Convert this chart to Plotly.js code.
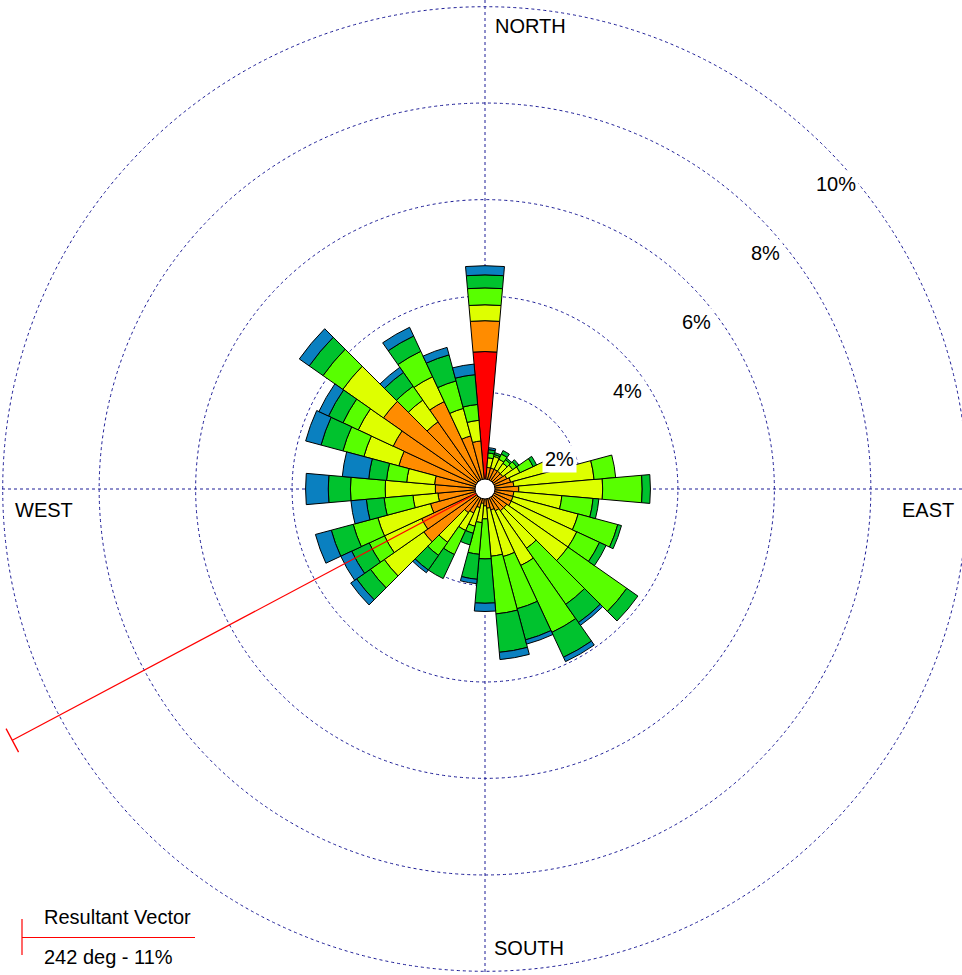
<!DOCTYPE html>
<html>
<head>
<meta charset="utf-8">
<script src="https://cdn.plot.ly/plotly-3.0.1.min.js"></script>
<style>
html,body{margin:0;padding:0;overflow:hidden;background:#fff;width:962px;height:975px;}
#chart{position:absolute;left:-60px;top:-56px;width:1090px;height:1090px;}
</style>
</head>
<body>
<div id="chart"></div>
<script>
// Wind directions (degrees, compass)
const directions = [0,10,20,30,40,50,60,70,80,90,100,110,120,130,140,150,160,170,
                    180,190,200,210,220,230,240,250,260,270,280,290,300,310,320,330,340,350];
// Frequency (%) per speed class, stacked from the centre outward
const classRed    = [2.85,0,0,0,0,0,0,0,0,0,0,0,0,0,0,0,0,0,0,0,0,0,0,0,0,0,0,0,0,0,0,0,0,0,0,0];
const classOrange = [0.64,0.45,0.45,0.45,0.45,0.45,0.50,0.55,0.60,0.70,0.60,0.60,0.60,0.55,0.55,0.50,0.45,0.40,
                     0.35,0.30,0.40,0.55,0.60,1.55,1.45,1.17,0.98,1.03,1.05,1.85,2.10,2.57,1.70,2.00,1.14,1.00];
const classYellow = [0.33,0.20,0.25,0.23,0.20,0.25,0.30,1.00,1.67,1.74,1.00,1.40,1.50,1.55,0.95,1.25,1.00,1.00,
                     0.27,0.40,0.40,0.40,0.75,1.00,0.85,1.13,0.52,1.04,0.58,0.75,0.80,1.03,0.55,0.57,0.59,0.43];
const classLGreen = [0.35,0.10,0.04,0.12,0.09,0.10,0.30,0.15,0.45,0.82,0.65,0.85,0.52,1.49,1.42,1.53,1.12,1.20,
                     0.83,0.66,0.15,0.55,0.33,0.35,0.35,0.53,0.60,0.72,0.42,0.45,0.35,0.50,0.35,0.58,0.59,0.33];
const classGreen  = [0.27,0.07,0.04,0.08,0.04,0.06,0.08,0.05,0.00,0.17,0.12,0.08,0.15,0.28,0.46,0.57,0.67,0.80,
                     0.92,0.52,0.25,0.55,0.37,0.35,0.40,0.47,0.37,0.46,0.37,0.47,0.33,0.35,0.35,0.35,0.56,0.62];
const classBlue   = [0.19,0.04,0,0,0,0,0,0,0,0,0,0,0,0,0.07,0.10,0.09,0.15,
                     0.17,0.09,0,0,0.07,0.15,0.25,0.34,0.32,0.47,0.55,0.33,0.22,0.25,0.13,0.20,0.16,0.22];
const classColors = ['#FF0000','#FF8C00','#DEFF00','#58FF00','#00C22E','#0A80C0'];
const classNames  = ['c1','c2','c3','c4','c5','c6'];

// Resultant vector
const resultantDir = 242;   // degrees
const resultantPct = 11.1;  // percent

// Ring labels
const ringValues = [2,4,6,8,10];
const ringLabels = ['2%','4%','6%','8%','10%'];
const compassLabels = ['NORTH','EAST','SOUTH','WEST'];

// Figure geometry: figure is larger than the window and offset so the 10% ring fits the view
const D = 1090, OFFX = -60, OFFY = -56;
const px = x => (x - OFFX) / D;
const py = y => 1 - (y - OFFY) / D;

const series = [classRed, classOrange, classYellow, classLGreen, classGreen, classBlue];
const traces = series.map((vals, i) => ({
  type: 'barpolar',
  r: vals,
  theta: directions,
  width: directions.map(() => 10),
  name: classNames[i],
  marker: {color: classColors[i], line: {color: '#000', width: 1}},
  hoverinfo: 'skip',
  showlegend: false
}));

traces.push({
  type: 'scatterpolar', mode: 'lines',
  r: [0, resultantPct], theta: [resultantDir, resultantDir],
  line: {color: '#FF0000', width: 1.2},
  cliponaxis: false, showlegend: false, hoverinfo: 'skip'
});
traces.push({
  type: 'scatterpolar', mode: 'markers',
  r: [resultantPct], theta: [resultantDir],
  marker: {symbol: 'line-ns', size: 19, angle: resultantDir - 90,
           line: {color: '#FF0000', width: 1.3}, color: '#FF0000'},
  cliponaxis: false, showlegend: false, hoverinfo: 'skip'
});
traces.push({
  type: 'scatterpolar', mode: 'markers',
  r: [0], theta: [0],
  marker: {size: 20, color: '#FFFFFF', line: {color: '#000', width: 1}},
  showlegend: false, hoverinfo: 'skip', cliponaxis: false
});

const font = {family: 'Liberation Sans, Arial, sans-serif', size: 20, color: '#000'};
const annotations = [];
const compassPos = [
  {x: 493, y: 26, xa: 'left'},
  {x: 956, y: 510, xa: 'right'},
  {x: 492, y: 948, xa: 'left'},
  {x: 13, y: 510, xa: 'left'}
];
compassLabels.forEach((t, i) => annotations.push({
  xref: 'paper', yref: 'paper', x: px(compassPos[i].x), y: py(compassPos[i].y),
  xanchor: compassPos[i].xa, yanchor: 'middle', text: t, showarrow: false, font: font
}));
const ringPos = [[559,459],[627,391],[696,322],[765,253],[836,184]];
ringLabels.forEach((t, i) => annotations.push({
  xref: 'paper', yref: 'paper', x: px(ringPos[i][0]), y: py(ringPos[i][1]),
  xanchor: 'center', yanchor: 'middle', text: t, showarrow: false, font: font,
  bgcolor: '#FFFFFF', borderpad: 2
}));
annotations.push({
  xref: 'paper', yref: 'paper', x: px(42), y: py(917), xanchor: 'left', yanchor: 'middle',
  text: 'Resultant Vector', showarrow: false, font: font
});
annotations.push({
  xref: 'paper', yref: 'paper', x: px(42), y: py(957), xanchor: 'left', yanchor: 'middle',
  text: resultantDir + ' deg - ' + Math.round(resultantPct) + '%', showarrow: false, font: font
});

const shapes = [
  {type: 'line', xref: 'paper', yref: 'paper', x0: px(22), x1: px(22), y0: py(919), y1: py(955),
   line: {color: '#FF0000', width: 1.2}},
  {type: 'line', xref: 'paper', yref: 'paper', x0: px(22), x1: px(195), y0: py(937.5), y1: py(937.5),
   line: {color: '#FF0000', width: 1.2}}
];

const gridColor = '#1C1C96';
const layout = {
  width: D, height: D,
  margin: {l: 0, r: 0, t: 0, b: 0, pad: 0},
  paper_bgcolor: '#FFFFFF',
  showlegend: false,
  font: font,
  polar: {
    domain: {x: [0, 1], y: [0, 1]},
    bgcolor: '#FFFFFF',
    barmode: 'stack',
    bargap: 0,
    radialaxis: {
      range: [0, 11.3], tickvals: ringValues, showticklabels: false, ticks: '',
      showline: false, showgrid: true, gridcolor: gridColor, gridwidth: 1, griddash: 'dot',
      layer: 'below traces'
    },
    angularaxis: {
      rotation: 90, direction: 'clockwise', tickmode: 'array', tickvals: [0, 90, 180, 270],
      showticklabels: false, ticks: '', showline: false,
      showgrid: true, gridcolor: gridColor, gridwidth: 1, griddash: 'dot',
      layer: 'below traces'
    }
  },
  annotations: annotations,
  shapes: shapes
};

Plotly.newPlot('chart', traces, layout, {displayModeBar: false, staticPlot: true});
</script>
</body>
</html>
